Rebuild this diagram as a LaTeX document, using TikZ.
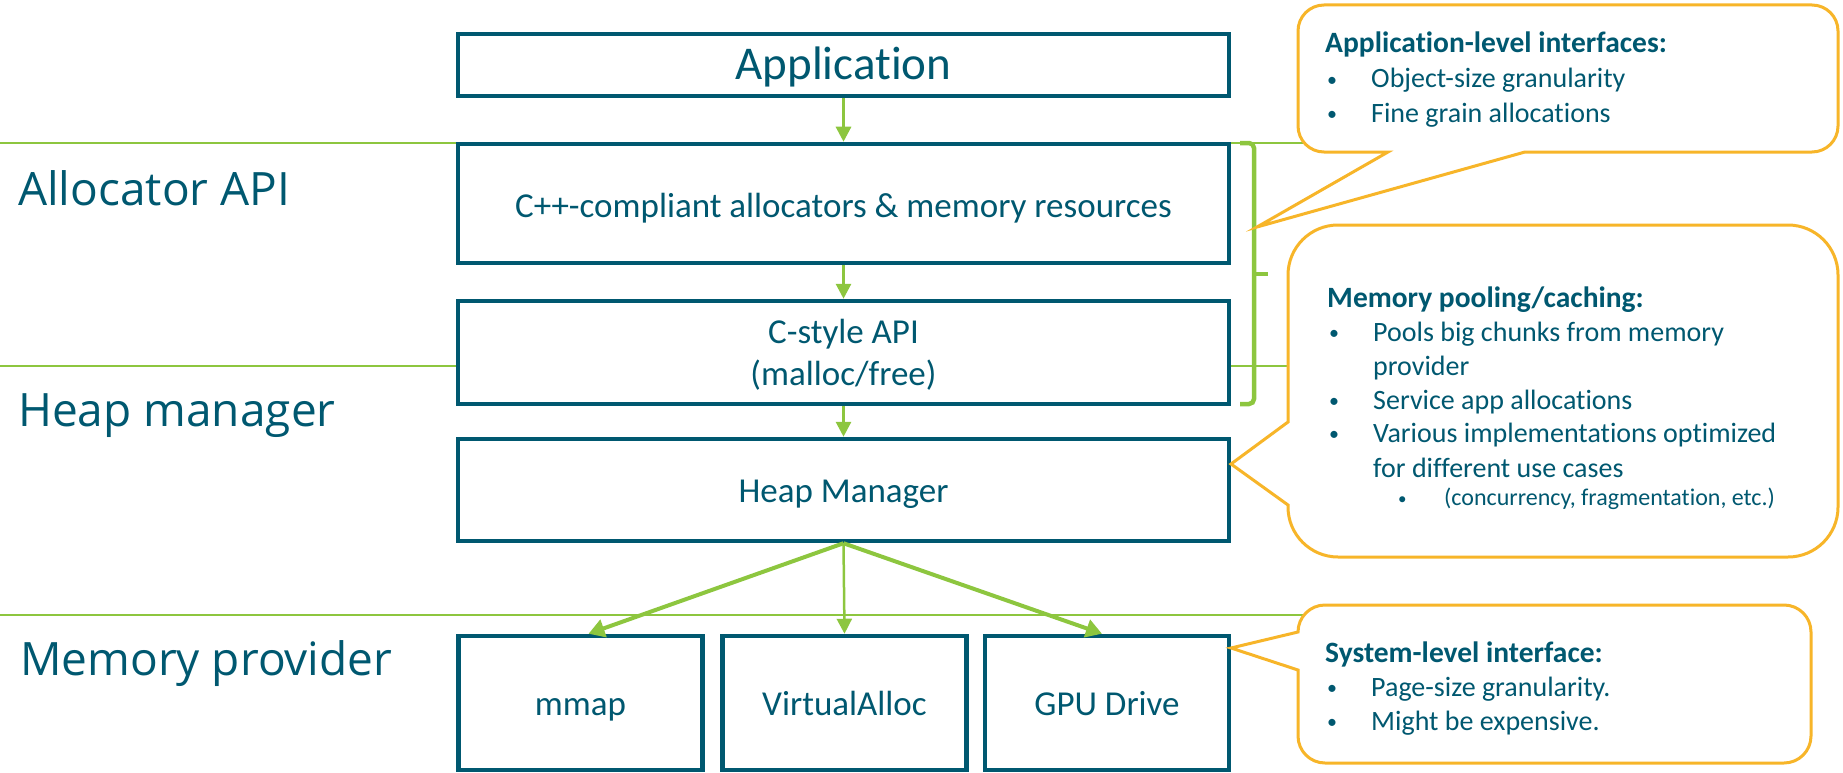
\documentclass[tikz,border=0pt]{standalone}
\usepackage{fontspec}
\setmainfont{Carlito}[Ligatures=NoCommon]
\newfontfamily\labelfont{Open Sans}
\usetikzlibrary{arrows.meta}
\definecolor{deepteal}{RGB}{0,88,112}
\definecolor{leafgreen}{RGB}{141,198,63}
\definecolor{calloutgold}{RGB}{247,181,41}
\newcommand\dotmark{\raisebox{1.5pt}{\fontsize{20}{20}\selectfont\textbullet}}
\newcommand\bul[1]{\makebox[43pt][l]{\hspace{-1pt}\dotmark}#1}
\begin{document}
\begin{tikzpicture}[x=1pt,y=-1pt,
  box/.style={draw=deepteal, line width=4.5pt, fill=white, inner sep=0pt},
  boxtext/.style={text=deepteal, inner sep=0pt, anchor=base, font=\fontsize{35}{42}\selectfont},
  layerlabel/.style={text=deepteal, inner sep=0pt, anchor=base west, font=\labelfont\fontsize{46}{55}\selectfont},
  divider/.style={draw=leafgreen, line width=2.5pt},
  flow/.style={draw=leafgreen, line width=3pt, -{Triangle[length=15pt,width=15pt]}},
  flowthick/.style={draw=leafgreen, line width=4pt, -{Triangle[length=16pt,width=18pt]}},
  calloutline/.style={draw=calloutgold, line width=3pt, fill=white, line join=miter},
  note/.style={text=deepteal, inner sep=0pt, anchor=base west, font=\fontsize{28}{34}\selectfont},
  notetitle/.style={note, font=\fontsize{29.5}{34}\selectfont\bfseries},
  subnote/.style={note, font=\fontsize{24}{28}\selectfont}]
\useasboundingbox (0,0) rectangle (1843,773);

% layer dividers
\draw[divider] (0,143) -- (1310,143);
\draw[divider] (0,366) -- (1300,366);
\draw[divider] (0,615) -- (1312,615);

% stack of components
\node[box, minimum width=771pt, minimum height=62pt] (app) at (843.5,65) {};
\node[box, minimum width=771pt, minimum height=119pt] (cpp) at (843.5,203.5) {};
\node[box, minimum width=771pt, minimum height=103pt] (capi) at (843.5,352.5) {};
\node[box, minimum width=771pt, minimum height=102pt] (heap) at (843.5,490) {};
\node[box, minimum width=244pt, minimum height=134pt] (mmap) at (580.5,703) {};
\node[box, minimum width=244pt, minimum height=134pt] (valloc) at (844.5,703) {};
\node[box, minimum width=244pt, minimum height=134pt] (gpu) at (1107,703) {};

\node[boxtext, font=\fontsize{47}{56}\selectfont] (apptext) at (843.5,80) {Application};
\node[boxtext] (cpptext) at (843.5,217) {C++-compliant allocators \& memory resources};
\node[boxtext] (capitexta) at (843.5,343) {C-style API};
\node[boxtext] (capitextb) at (843.5,385) {(malloc/free)};
\node[boxtext] (heaptext) at (843.5,502) {Heap Manager};
\node[boxtext] (mmaptext) at (580.5,715) {mmap};
\node[boxtext] (valloctext) at (844.5,715) {VirtualAlloc};
\node[boxtext] (gputext) at (1107,715) {GPU Drive};

% call flow
\draw[flow] (app.south) -- (cpp.north);
\draw[flow] (cpp.south) -- (capi.north);
\draw[flow] (capi.south) -- (heap.north);
\draw[flowthick] (heap.south) -- ([xshift=8pt]mmap.north);
\draw[flow, line width=2.5pt] (heap.south) -- (valloc.north);
\draw[flowthick] (heap.south) -- ([xshift=-5pt]gpu.north);

% brace grouping the allocator layers
\draw[leafgreen, line width=4.5pt, rounded corners=5pt] (1240,143) -- (1254,143) -- (1254,404) -- (1240,404);
\draw[leafgreen, line width=4.5pt] (1254,274) -- (1268,274);

% layer labels
\node[layerlabel] (lblapi) at (18,205) {Allocator API};
\node[layerlabel] (lblheap) at (18,426) {Heap manager};
\node[layerlabel] (lblprov) at (20,675) {Memory provider};

% callout: application-level interfaces
\draw[calloutline] (1324,5) -- (1812,5) arc[start angle=270,end angle=360,radius=26]
  -- (1838,126) arc[start angle=0,end angle=90,radius=26]
  -- (1525,152) -- (1257,227) -- (1388,152)
  -- (1324,152) arc[start angle=90,end angle=180,radius=26]
  -- (1298,31) arc[start angle=180,end angle=270,radius=26] -- cycle;
\node[notetitle] (t1) at (1325,53) {Application-level interfaces:};
\node[note] (t1a) at (1328,88) {\bul{Object-size granularity}};
\node[note] (t1b) at (1328,122) {\bul{Fine grain allocations}};

% callout: memory pooling
\draw[calloutline] (1338,225) -- (1788,225) arc[start angle=270,end angle=360,radius=50]
  -- (1838,507) arc[start angle=0,end angle=90,radius=50]
  -- (1338,557) arc[start angle=90,end angle=180,radius=50]
  -- (1288,505) -- (1231,464) -- (1288,422)
  -- (1288,275) arc[start angle=180,end angle=270,radius=50] -- cycle;
\node[notetitle] (t2) at (1327,307) {Memory pooling/caching:};
\node[note] (t2a) at (1330,341) {\bul{Pools big chunks from memory}};
\node[note] (t2b) at (1373,375) {provider};
\node[note] (t2c) at (1330,409) {\bul{Service app allocations}};
\node[note] (t2d) at (1330,442) {\bul{Various implementations optimized}};
\node[note] (t2e) at (1373,477) {for different use cases};
\node[subnote] (t2f) at (1398,505) {\makebox[46pt][l]{\raisebox{1pt}{\fontsize{17}{17}\selectfont\textbullet}}(concurrency, fragmentation, etc.)};

% callout: system-level interface
\draw[calloutline] (1325,605) -- (1784,605) arc[start angle=270,end angle=360,radius=27]
  -- (1811,736) arc[start angle=0,end angle=90,radius=27]
  -- (1325,763) arc[start angle=90,end angle=180,radius=27]
  -- (1298,670) -- (1231,648) -- (1298,632)
  arc[start angle=180,end angle=270,radius=27] -- cycle;
\node[notetitle] (t3) at (1325,662) {System-level interface:};
\node[note] (t3a) at (1328,696) {\bul{Page-size granularity.}};
\node[note] (t3b) at (1328,730) {\bul{Might be expensive.}};
\end{tikzpicture}
\end{document}
